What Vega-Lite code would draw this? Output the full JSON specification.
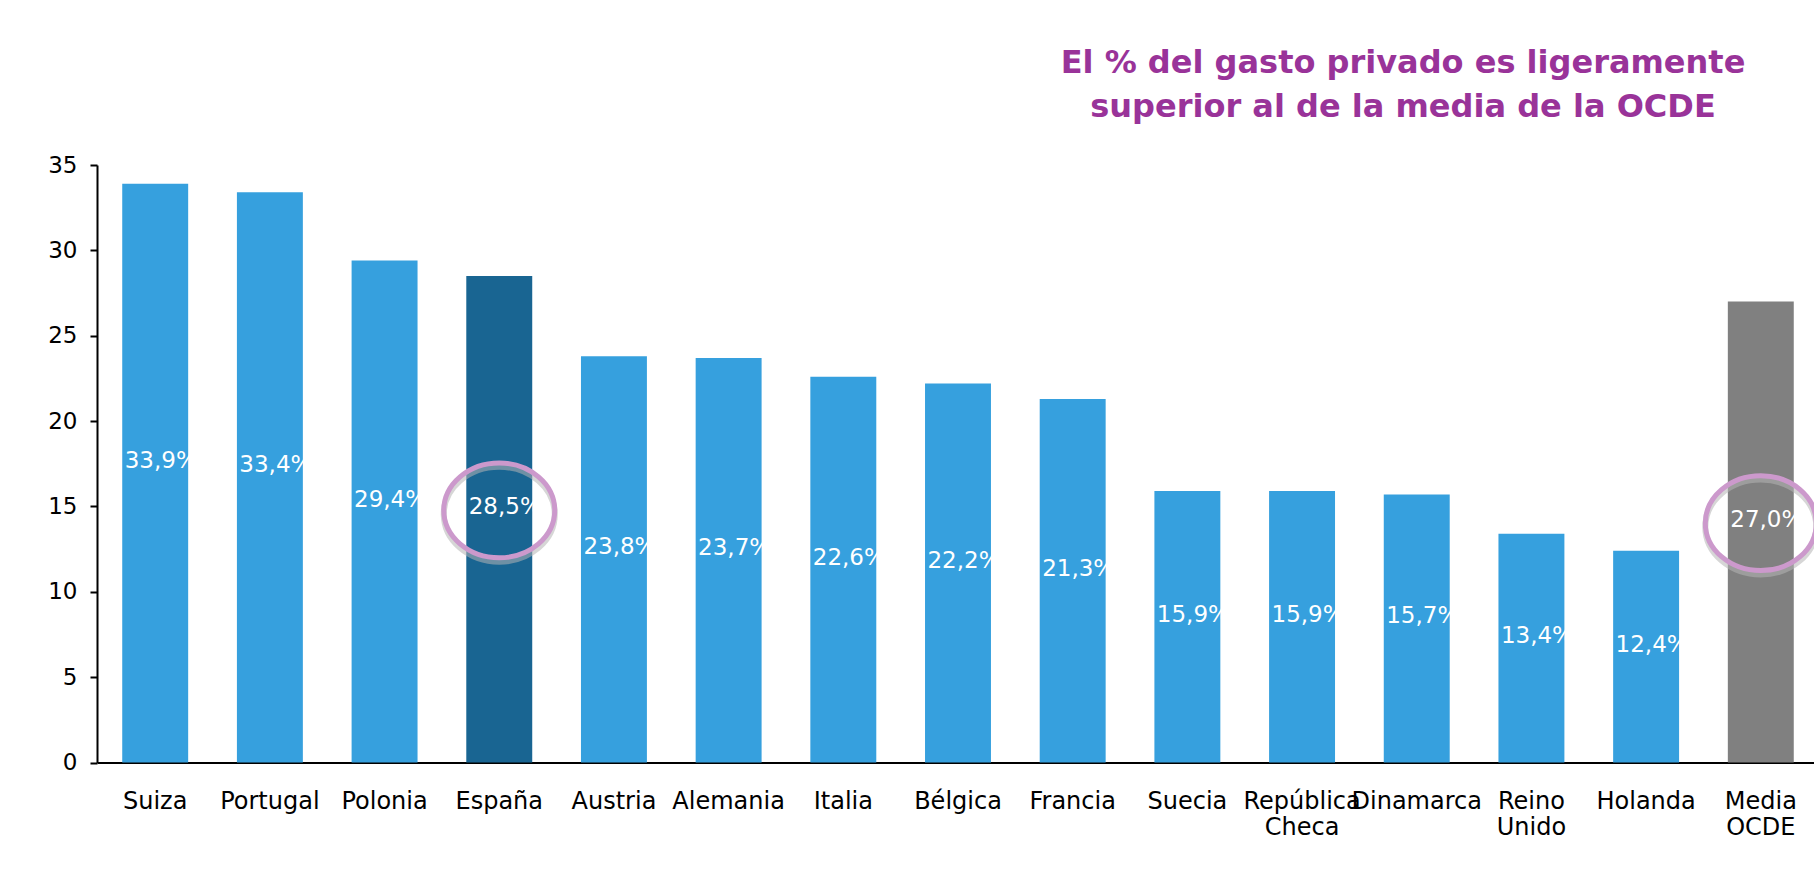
{
  "$schema": "https://vega.github.io/schema/vega-lite/v6.json",
  "width": 1722,
  "height": 597.5,
  "autosize": "none",
  "padding": {"left": 97, "top": 165, "right": 0, "bottom": 121.5},
  "background": "white",
  "config": {"view": {"stroke": null}, "font": "DejaVu Sans"},
  "title": {
    "text": ["El % del gasto privado es ligeramente", "superior al de la media de la OCDE"],
    "anchor": "start",
    "align": "center",
    "frame": "group",
    "dx": 1306,
    "offset": 30,
    "font": "DejaVu Sans",
    "fontSize": 32,
    "fontWeight": "bold",
    "color": "#993399",
    "lineHeight": 44
  },
  "data": {
    "values": [
      {"pais": "Suiza", "valor": 33.9, "etiqueta": "33,9%", "grupo": "país"},
      {"pais": "Portugal", "valor": 33.4, "etiqueta": "33,4%", "grupo": "país"},
      {"pais": "Polonia", "valor": 29.4, "etiqueta": "29,4%", "grupo": "país"},
      {"pais": "España", "valor": 28.5, "etiqueta": "28,5%", "grupo": "España"},
      {"pais": "Austria", "valor": 23.8, "etiqueta": "23,8%", "grupo": "país"},
      {"pais": "Alemania", "valor": 23.7, "etiqueta": "23,7%", "grupo": "país"},
      {"pais": "Italia", "valor": 22.6, "etiqueta": "22,6%", "grupo": "país"},
      {"pais": "Bélgica", "valor": 22.2, "etiqueta": "22,2%", "grupo": "país"},
      {"pais": "Francia", "valor": 21.3, "etiqueta": "21,3%", "grupo": "país"},
      {"pais": "Suecia", "valor": 15.9, "etiqueta": "15,9%", "grupo": "país"},
      {"pais": "República Checa", "valor": 15.9, "etiqueta": "15,9%", "grupo": "país"},
      {"pais": "Dinamarca", "valor": 15.7, "etiqueta": "15,7%", "grupo": "país"},
      {"pais": "Reino Unido", "valor": 13.4, "etiqueta": "13,4%", "grupo": "país"},
      {"pais": "Holanda", "valor": 12.4, "etiqueta": "12,4%", "grupo": "país"},
      {"pais": "Media OCDE", "valor": 27.0, "etiqueta": "27,0%", "grupo": "OCDE"}
    ]
  },
  "encoding": {
    "x": {
      "field": "pais",
      "type": "nominal",
      "sort": null,
      "scale": {"paddingInner": 0.425, "paddingOuter": 0.22},
      "axis": {
        "title": null,
        "labelAngle": 0,
        "labelFont": "DejaVu Sans",
        "labelFontSize": 24,
        "labelColor": "black",
        "ticks": false,
        "tickSize": 0,
        "domainColor": "black",
        "domainWidth": 2,
        "labelPadding": 27,
        "labelBaseline": "top",
        "labelExpr": "split(datum.value, ' ')",
        "labelLineHeight": 26,
        "labelLimit": 0,
        "labelOverlap": false
      }
    }
  },
  "layer": [
    {
      "mark": {"type": "bar"},
      "encoding": {
        "y": {
          "field": "valor",
          "type": "quantitative",
          "scale": {"domain": [0, 35]},
          "axis": {
            "title": null,
            "values": [0, 5, 10, 15, 20, 25, 30, 35],
            "grid": false,
            "tickSize": 7,
            "tickColor": "black",
            "tickWidth": 2,
            "domainColor": "black",
            "domainWidth": 2,
            "labelFont": "DejaVu Sans",
            "labelFontSize": 23,
            "labelColor": "black",
            "labelPadding": 13
          }
        },
        "color": {
          "field": "grupo",
          "type": "nominal",
          "scale": {"domain": ["país", "España", "OCDE"], "range": ["#36a0de", "#196592", "#808080"]},
          "legend": null
        }
      }
    },
    {
      "transform": [{"calculate": "datum.valor / 2", "as": "medio"}],
      "mark": {"type": "text", "color": "white", "fontSize": 23, "dx": 6, "dy": -12, "baseline": "middle", "align": "center"},
      "encoding": {
        "y": {"field": "medio", "type": "quantitative", "title": null, "scale": {"domain": [0, 35]}},
        "text": {"field": "etiqueta"}
      }
    },
    {
      "transform": [
        {"filter": "datum.pais == 'España' || datum.pais == 'Media OCDE'"},
        {"calculate": "datum.valor / 2", "as": "medio"}
      ],
      "mark": {
        "type": "point",
        "shape": "M-1,-0.09A1,0.855,0,1,1,1,-0.09A1,0.855,0,1,1,-1,-0.09Z",
        "size": 12321,
        "filled": false,
        "fill": "transparent",
        "stroke": "#b4b4b4",
        "strokeWidth": 6,
        "strokeOpacity": 0.55,
        "opacity": 1
      },
      "encoding": {
        "y": {"field": "medio", "type": "quantitative", "title": null, "scale": {"domain": [0, 35]}}
      }
    },
    {
      "transform": [
        {"filter": "datum.pais == 'España' || datum.pais == 'Media OCDE'"},
        {"calculate": "datum.valor / 2", "as": "medio"}
      ],
      "mark": {
        "type": "point",
        "shape": "M-1,-0.16A1,0.855,0,1,1,1,-0.16A1,0.855,0,1,1,-1,-0.16Z",
        "size": 12321,
        "filled": false,
        "fill": "transparent",
        "stroke": "#cc99cc",
        "strokeWidth": 5,
        "strokeOpacity": 1,
        "opacity": 1
      },
      "encoding": {
        "y": {"field": "medio", "type": "quantitative", "title": null, "scale": {"domain": [0, 35]}}
      }
    }
  ]
}
